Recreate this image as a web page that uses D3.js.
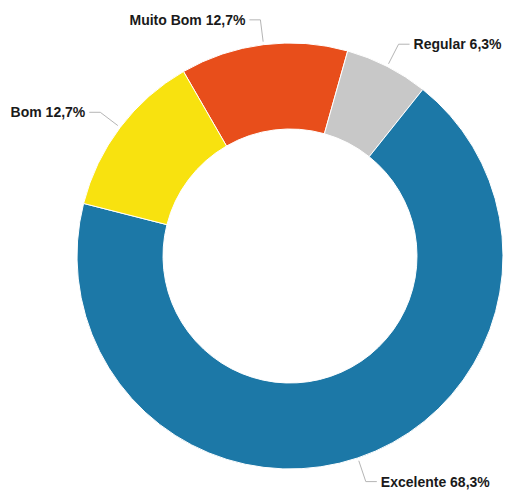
<!DOCTYPE html>
<html>
<head>
<meta charset="utf-8">
<script src="https://cdn.jsdelivr.net/npm/d3@7"></script>
<style>
  body { margin: 0; background: #fff; }
  svg { display: block; }
</style>
</head>
<body>
<svg id="chart"></svg>
<script>
const categories = ["Muito Bom", "Regular", "Excelente", "Bom"];
const values = [8, 4, 43, 8];
const colors = ["#e84e1b", "#c8c8c8", "#1c78a7", "#f8e20f"];

const w = 506, h = 491;
const cx = 290, cy = 256;
const outerR = 213, innerR = 127;

const svg = d3.select("#chart").attr("width", w).attr("height", h);
const g = svg.append("g").attr("transform", `translate(${cx},${cy})`);

const total = d3.sum(values);
const pie = d3.pie().sort(null)
  .startAngle(-30 * Math.PI / 180)
  .endAngle(330 * Math.PI / 180);
const arcs = pie(values);

const arc = d3.arc().innerRadius(innerR).outerRadius(outerR);

g.selectAll("path.slice")
  .data(arcs)
  .join("path")
  .attr("class", "slice")
  .attr("d", arc)
  .attr("fill", (d, i) => colors[i])
  .attr("stroke", "#fff")
  .attr("stroke-width", 1);

const pt = (a, r) => [Math.sin(a) * r, -Math.cos(a) * r];

arcs.forEach((d, i) => {
  const mid = (d.startAngle + d.endAngle) / 2;
  const right = Math.sin(mid) >= 0;
  const p0 = pt(mid, outerR + 3);
  const p1 = pt(mid, outerR + 25);
  const p2 = [p1[0] + (right ? 11 : -11), p1[1]];
  g.append("path")
    .attr("d", d3.line()([p0, p1, p2]))
    .attr("fill", "none")
    .attr("stroke", "#b5b5b5")
    .attr("stroke-width", 1);
  const pct = (values[i] / total * 100).toFixed(1).replace(".", ",");
  g.append("text")
    .attr("x", p2[0] + (right ? 4 : -4))
    .attr("y", p1[1])
    .attr("dy", "0.35em")
    .attr("text-anchor", right ? "start" : "end")
    .attr("font-family", "'Liberation Sans', Arial, sans-serif")
    .attr("font-weight", "bold")
    .attr("font-size", 14)
    .attr("fill", "#1a1a1a")
    .text(`${categories[i]} ${pct}%`);
});
</script>
</body>
</html>
